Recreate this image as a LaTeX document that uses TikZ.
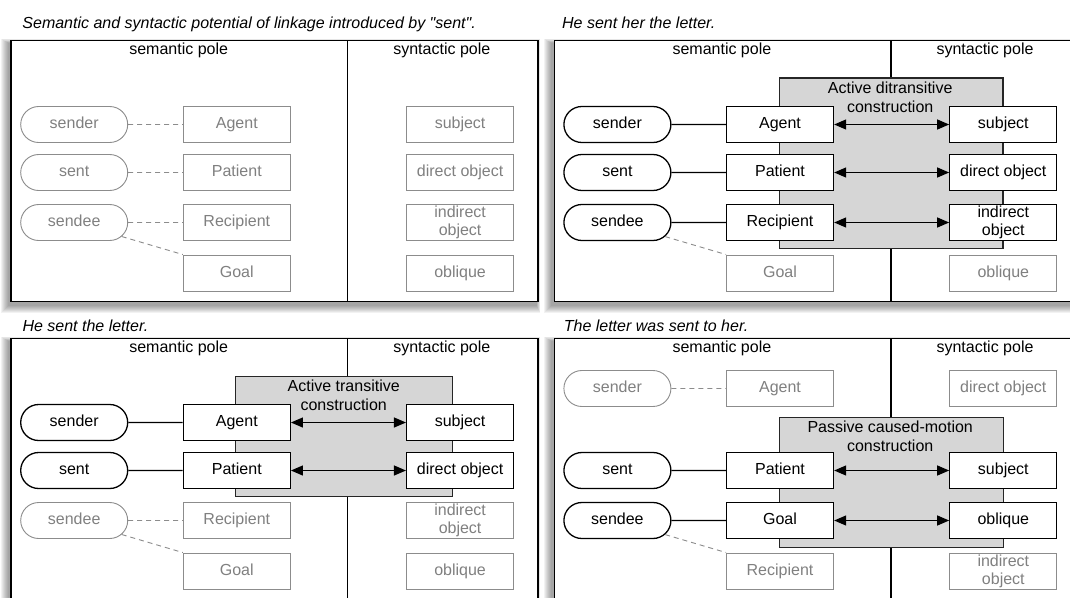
\documentclass[tikz,border=0pt]{standalone}
\usepackage{fontspec}
\setmainfont{Liberation Sans}
\usetikzlibrary{shapes.misc,arrows.meta}
\definecolor{gline}{gray}{0.55}
\definecolor{gtext}{gray}{0.5}
\definecolor{cfill}{gray}{0.84}
\tikzset{
  every node/.style={font=\fontsize{16}{18}\selectfont},
  ent/.style={rounded rectangle, draw=black, line width=1.3pt, fill=white, minimum width=107pt, minimum height=36pt, inner sep=0pt, text height=11.5pt, text depth=3.4pt},
  entg/.style={ent, draw=gline, line width=0.9pt, text=gtext},
  role/.style={rectangle, draw=black, line width=1.3pt, fill=white, minimum width=107pt, minimum height=36pt, inner sep=0pt, text height=11.5pt, text depth=3.4pt},
  roleg/.style={role, draw=gline, line width=0.9pt, text=gtext},
  rolem/.style={rectangle, draw=black, line width=1.3pt, fill=white, minimum width=107pt, minimum height=36pt, inner sep=0pt, align=center},
  rolemg/.style={rolem, draw=gline, line width=0.9pt, text=gtext},
  link/.style={line width=1.1pt},
  linkg/.style={gline, line width=0.9pt, dash pattern=on 5pt off 4pt},
  corr/.style={line width=1.2pt, {Triangle[length=12pt,width=10pt]}-{Triangle[length=12pt,width=10pt]}},
  frame/.style={draw=black, line width=1.2pt, fill=white},
  divider/.style={line width=1.2pt},
  cbox/.style={draw=black!85, line width=1.1pt, fill=cfill},
  pole/.style={anchor=base},
  ttl/.style={anchor=base west, font=\fontsize{16}{18}\selectfont\itshape},
  clabel/.style={align=center, inner sep=0pt, font=\fontsize{16}{19}\selectfont},
}
\newcommand{\mypanelbase}{%
  \foreach \i in {1,...,8} \fill[black,opacity=0.05] (-2-\i,3-0.6*\i) rectangle (525+0.5*\i,264+\i);
  \draw[frame] (0,0) rectangle (527,261);
  \draw[divider] (336.7,0) -- (336.7,261);
}
\begin{document}
\begin{tikzpicture}[x=1pt,y=-1pt]
\useasboundingbox (0,0) rectangle (1070,597);
\clip (0,0) rectangle (1070,597);
\fill[white] (0,0) rectangle (1070,597);

% titles
\node[ttl] (t1) at (18.9,28) {Semantic and syntactic potential of linkage introduced by \textquotedbl sent\textquotedbl.};
\node[ttl] (t2) at (558.6,28) {He sent her the letter.};
\node[ttl] (t3) at (19,331.5) {He sent the letter.};
\node[ttl] (t4) at (560.3,331.5) {The letter was sent to her.};

% ---------------- panel 1
\begin{scope}[shift={(11,40.5)}]
  \mypanelbase
  \node[pole] (p1sem) at (167.7,14) {semantic pole};
  \node[pole] (p1syn) at (430.8,14) {syntactic pole};
  \node[entg] (p1sender) at (63.2,84) {sender};
  \node[entg] (p1sent) at (63.2,132) {sent};
  \node[entg] (p1sendee) at (63.2,182) {sendee};
  \node[roleg] (p1agent) at (225.8,84) {Agent};
  \node[roleg] (p1patient) at (225.8,132) {Patient};
  \node[roleg] (p1recip) at (225.8,182) {Recipient};
  \node[roleg] (p1goal) at (225.8,232.5) {Goal};
  \node[roleg] (p1subj) at (449.1,84) {subject};
  \node[roleg] (p1dobj) at (449.1,132) {direct object};
  \node[rolemg] (p1iobj) at (449.1,182) {indirect\\object};
  \node[roleg] (p1obl) at (449.1,232.5) {oblique};
  \draw[linkg] (p1sender) -- (p1agent);
  \draw[linkg] (p1sent) -- (p1patient);
  \draw[linkg] (p1sendee) -- (p1recip);
  \draw[linkg] (p1sendee) -- (p1goal.north west);
\end{scope}

% ---------------- panel 2
\begin{scope}[shift={(554.2,40.5)}]
  \mypanelbase
  \node[pole] (p2sem) at (167.7,14) {semantic pole};
  \node[pole] (p2syn) at (430.8,14) {syntactic pole};
  \draw[cbox] (225.2,37.5) rectangle (448.8,208.3);
  \node[clabel] (p2lab) at (336,56.5) {Active ditransitive\\construction};
  \node[ent] (p2sender) at (63.2,84) {sender};
  \node[ent] (p2sent) at (63.2,132) {sent};
  \node[ent] (p2sendee) at (63.2,182) {sendee};
  \node[role] (p2agent) at (225.8,84) {Agent};
  \node[role] (p2patient) at (225.8,132) {Patient};
  \node[role] (p2recip) at (225.8,182) {Recipient};
  \node[roleg] (p2goal) at (225.8,232.5) {Goal};
  \node[role] (p2subj) at (449.1,84) {subject};
  \node[role] (p2dobj) at (449.1,132) {direct object};
  \node[rolem] (p2iobj) at (449.1,182) {indirect\\object};
  \node[roleg] (p2obl) at (449.1,232.5) {oblique};
  \draw[link] (p2sender) -- (p2agent);
  \draw[link] (p2sent) -- (p2patient);
  \draw[link] (p2sendee) -- (p2recip);
  \draw[linkg] (p2sendee) -- (p2goal.north west);
  \draw[corr] (p2agent) -- (p2subj);
  \draw[corr] (p2patient) -- (p2dobj);
  \draw[corr] (p2recip) -- (p2iobj);
\end{scope}

% ---------------- panel 3
\begin{scope}[shift={(11,338.5)}]
  \mypanelbase
  \node[pole] (p3sem) at (167.7,14) {semantic pole};
  \node[pole] (p3syn) at (430.8,14) {syntactic pole};
  \draw[cbox] (224.9,37.7) rectangle (441.8,158);
  \node[clabel] (p3lab) at (332.7,56.5) {Active transitive\\construction};
  \node[ent] (p3sender) at (63.2,84) {sender};
  \node[ent] (p3sent) at (63.2,132) {sent};
  \node[entg] (p3sendee) at (63.2,182) {sendee};
  \node[role] (p3agent) at (225.8,84) {Agent};
  \node[role] (p3patient) at (225.8,132) {Patient};
  \node[roleg] (p3recip) at (225.8,182) {Recipient};
  \node[roleg] (p3goal) at (225.8,232.5) {Goal};
  \node[role] (p3subj) at (449.1,84) {subject};
  \node[role] (p3dobj) at (449.1,132) {direct object};
  \node[rolemg] (p3iobj) at (449.1,182) {indirect\\object};
  \node[roleg] (p3obl) at (449.1,232.5) {oblique};
  \draw[link] (p3sender) -- (p3agent);
  \draw[link] (p3sent) -- (p3patient);
  \draw[linkg] (p3sendee) -- (p3recip);
  \draw[linkg] (p3sendee) -- (p3goal.north west);
  \draw[corr] (p3agent) -- (p3subj);
  \draw[corr] (p3patient) -- (p3dobj);
\end{scope}

% ---------------- panel 4
\begin{scope}[shift={(554.2,338.5)}]
  \mypanelbase
  \node[pole] (p4sem) at (167.7,14) {semantic pole};
  \node[pole] (p4syn) at (430.8,14) {syntactic pole};
  \draw[cbox] (225.2,78.7) rectangle (449,208.7);
  \node[clabel] (p4lab) at (336,97.5) {Passive caused-motion\\construction};
  \node[entg] (p4sender) at (63.2,50) {sender};
  \node[ent] (p4sent) at (63.2,132) {sent};
  \node[ent] (p4sendee) at (63.2,182) {sendee};
  \node[roleg] (p4agent) at (225.8,50) {Agent};
  \node[role] (p4patient) at (225.8,132) {Patient};
  \node[role] (p4goal) at (225.8,182) {Goal};
  \node[roleg] (p4recip) at (225.8,232.5) {Recipient};
  \node[roleg] (p4dobj) at (449.1,50) {direct object};
  \node[role] (p4subj) at (449.1,132) {subject};
  \node[role] (p4obl) at (449.1,182) {oblique};
  \node[rolemg] (p4iobj) at (449.1,232.5) {indirect\\object};
  \draw[linkg] (p4sender) -- (p4agent);
  \draw[link] (p4sent) -- (p4patient);
  \draw[link] (p4sendee) -- (p4goal);
  \draw[linkg] (p4sendee) -- (p4recip.north west);
  \draw[corr] (p4patient) -- (p4subj);
  \draw[corr] (p4goal) -- (p4obl);
\end{scope}
\end{tikzpicture}
\end{document}
